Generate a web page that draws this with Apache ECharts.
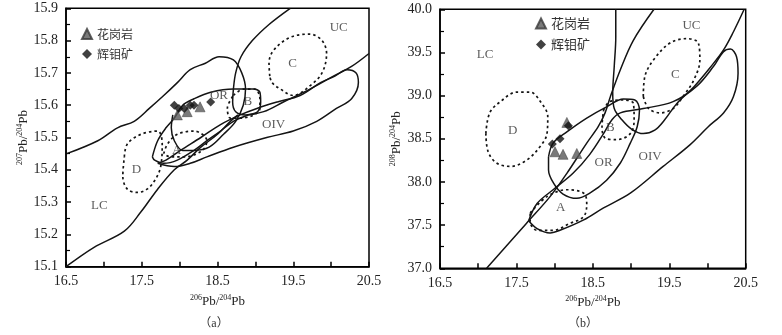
<!DOCTYPE html>
<html><head><meta charset="utf-8">
<script src="https://cdn.jsdelivr.net/npm/echarts@6/dist/echarts.min.js"></script>
<style>html,body{margin:0;padding:0;background:#fff}#c{width:782px;height:335px}</style>
</head><body><div id="c"></div>
<script>
// ---------- axis ranges ----------
const xRange = [16.5, 20.5];
const yRangeA = [15.1, 15.9];
const yRangeB = [37.0, 40.0];

// ---------- panel (a): 207Pb/204Pb vs 206Pb/204Pb ----------
const graniteA = [[17.97,15.57],[18.10,15.58],[18.27,15.595]];
const molyA = [[17.93,15.60],[17.99,15.59],[18.06,15.59],[18.14,15.60],[18.19,15.60],[18.41,15.61]];

const lcUpperA = [[16.51,15.45],[16.92,15.49],[17.18,15.53],[17.40,15.55],[17.60,15.59],[17.79,15.63],[17.97,15.67],[18.14,15.71],[18.34,15.73],[18.52,15.75],[18.71,15.74],[18.82,15.70],[18.87,15.65],[18.84,15.60],[18.74,15.55],[18.58,15.51],[18.39,15.47],[18.19,15.46],[18.04,15.46],[17.93,15.49],[17.89,15.53],[17.91,15.57]];
const lcLowerA = [[16.50,15.10],[16.87,15.16],[17.27,15.21],[17.49,15.27],[17.71,15.34],[17.93,15.40],[18.10,15.43],[18.28,15.47],[18.50,15.51],[18.67,15.55],[18.77,15.57]];
const ucA = [[19.46,15.90],[19.18,15.85],[18.96,15.80],[18.81,15.75],[18.74,15.70],[18.71,15.65],[18.70,15.61],[18.74,15.58],[18.87,15.57],[19.11,15.58],[19.37,15.61],[19.72,15.65],[20.03,15.69],[20.27,15.72],[20.50,15.76]];
const orA = [[17.64,15.44],[17.71,15.49],[17.82,15.53],[17.93,15.56],[18.04,15.60],[18.19,15.62],[18.41,15.64],[18.71,15.65],[18.98,15.65],[19.06,15.64],[19.07,15.61],[19.03,15.58],[18.91,15.57],[18.71,15.55],[18.54,15.52],[18.36,15.49],[18.19,15.46],[17.97,15.43],[17.79,15.42],[17.67,15.43],[17.64,15.44]];
const oivA = [[17.71,15.42],[17.93,15.41],[18.14,15.42],[18.36,15.44],[18.71,15.47],[19.15,15.50],[19.50,15.52],[19.81,15.55],[20.07,15.59],[20.27,15.62],[20.36,15.67],[20.33,15.70],[20.21,15.71],[20.05,15.69],[19.86,15.67],[19.59,15.63],[19.29,15.61],[19.02,15.59],[18.80,15.57],[18.54,15.54],[18.28,15.50],[18.01,15.46],[17.82,15.43],[17.71,15.42]];
const fieldAa = [[17.79,15.45],[17.84,15.48],[17.97,15.51],[18.19,15.52],[18.36,15.49],[18.30,15.46],[18.06,15.44],[17.88,15.44],[17.79,15.45]];
const fieldBa = [[18.71,15.63],[18.85,15.65],[18.99,15.65],[19.06,15.62],[19.06,15.59],[18.98,15.57],[18.80,15.56],[18.67,15.56],[18.63,15.59],[18.71,15.63]];
const fieldCa = [[19.19,15.69],[19.18,15.73],[19.24,15.77],[19.46,15.81],[19.72,15.82],[19.88,15.80],[19.94,15.76],[19.88,15.70],[19.72,15.66],[19.50,15.63],[19.33,15.65],[19.22,15.67],[19.19,15.69]];
const fieldDa = [[17.27,15.44],[17.31,15.48],[17.49,15.51],[17.71,15.52],[17.77,15.48],[17.75,15.41],[17.68,15.37],[17.57,15.34],[17.44,15.33],[17.31,15.34],[17.25,15.38],[17.27,15.44]];
const labelsA = [['UC',20.10,15.84],['C',19.49,15.73],['OR',18.52,15.63],['B',18.90,15.61],['OIV',19.24,15.54],['A',17.96,15.46],['D',17.43,15.40],['LC',16.94,15.29]];

// ---------- panel (b): 208Pb/204Pb vs 206Pb/204Pb ----------
const graniteB = [[18.005,38.35],[18.11,38.32],[18.29,38.33],[18.16,38.69]];
const molyB = [[17.97,38.44],[18.07,38.50],[18.18,38.65]];

const lcLineB = [[17.11,37.00],[17.63,37.52],[17.94,37.83],[18.16,38.10],[18.42,38.45],[18.57,38.64],[18.66,38.80],[18.73,38.99],[18.86,39.30],[19.03,39.64],[19.30,40.00]];
const ucB = [[18.80,40.00],[18.80,39.68],[18.78,39.34],[18.76,39.03],[18.78,38.85],[18.88,38.72],[19.01,38.61],[19.16,38.56],[19.31,38.60],[19.44,38.72],[19.60,38.91],[19.82,39.10],[20.03,39.32],[20.21,39.53],[20.34,39.74],[20.48,40.00]];
const orB = [[17.92,38.29],[17.98,38.45],[18.16,38.58],[18.42,38.74],[18.68,38.87],[18.90,38.96],[19.05,38.95],[19.11,38.83],[19.08,38.64],[18.99,38.45],[18.86,38.22],[18.68,38.02],[18.46,37.87],[18.29,37.81],[18.11,37.86],[17.99,37.98],[17.92,38.14],[17.92,38.29]];
const oivB = [[17.66,37.55],[17.77,37.75],[17.98,37.91],[18.24,38.10],[18.46,38.32],[18.64,38.56],[18.75,38.72],[18.86,38.80],[19.16,38.85],[19.55,38.93],[19.86,39.11],[20.08,39.34],[20.21,39.51],[20.30,39.54],[20.38,39.45],[20.40,39.26],[20.34,38.99],[20.21,38.80],[20.01,38.64],[19.77,38.43],[19.42,38.18],[18.99,37.87],[18.64,37.70],[18.38,37.56],[18.07,37.44],[17.94,37.41],[17.77,37.46],[17.66,37.55]];
const fieldAb = [[17.68,37.64],[17.90,37.83],[18.16,37.91],[18.38,37.87],[18.42,37.75],[18.38,37.60],[18.20,37.52],[17.98,37.44],[17.77,37.44],[17.68,37.54],[17.68,37.64]];
const fieldBb = [[18.64,38.83],[18.72,38.93],[18.90,38.95],[19.03,38.91],[19.04,38.72],[18.99,38.56],[18.81,38.49],[18.66,38.51],[18.62,38.64],[18.64,38.83]];
const fieldCb = [[19.16,38.99],[19.18,39.22],[19.29,39.41],[19.51,39.61],[19.73,39.66],[19.88,39.61],[19.90,39.41],[19.82,39.18],[19.68,38.99],[19.55,38.85],[19.38,38.80],[19.23,38.85],[19.16,38.99]];
const fieldDb = [[17.10,38.56],[17.15,38.80],[17.29,38.93],[17.50,39.04],[17.68,39.04],[17.83,38.91],[17.91,38.76],[17.90,38.56],[17.81,38.41],[17.63,38.25],[17.42,38.18],[17.24,38.22],[17.13,38.35],[17.10,38.56]];
const labelsB = [['UC',19.79,39.81],['LC',17.09,39.47],['D',17.45,38.60],['B',18.73,38.63],['OR',18.64,38.22],['OIV',19.25,38.29],['C',19.58,39.24],['A',18.08,37.70]];

// ---------- build option ----------
const serif = 'Liberation Serif, Times New Roman, serif';
const ink = '#141414';
const series = [];
function curve(data, gi, dotted) {
  series.push({
    type: 'line', data: data, xAxisIndex: gi, yAxisIndex: gi,
    showSymbol: false, symbol: 'none', smooth: 0.35, silent: true, z: 2,
    lineStyle: dotted ? {color: ink, width: 1.7, type: [2.5, 3]} : {color: ink, width: 1.5}
  });
}
[lcUpperA, lcLowerA, ucA, orA, oivA].forEach(d => curve(d, 0, false));
[fieldAa, fieldBa, fieldCa, fieldDa].forEach(d => curve(d, 0, true));
[lcLineB, ucB, orB, oivB].forEach(d => curve(d, 1, false));
[fieldAb, fieldBb, fieldCb, fieldDb].forEach(d => curve(d, 1, true));

function labelSeries(list, gi) {
  series.push({
    type: 'scatter', xAxisIndex: gi, yAxisIndex: gi, symbolSize: 1, silent: true, z: 3,
    itemStyle: {color: 'rgba(0,0,0,0)'},
    data: list.map(l => ({name: l[0], value: [l[1], l[2]]})),
    label: {show: true, position: 'inside', formatter: '{b}', fontFamily: serif, fontSize: 13, color: '#333'}
  });
}
labelSeries(labelsA, 0);
labelSeries(labelsB, 1);

function pts(name, data, gi, sym) {
  series.push({
    name: name, type: 'scatter', xAxisIndex: gi, yAxisIndex: gi, data: data, z: 5,
    symbol: sym, symbolSize: sym === 'triangle' ? 10 : 9,
    itemStyle: sym === 'triangle' ? {color: '#595959', borderColor: '#3a3a3a', borderWidth: 0.6} : {color: '#111'}
  });
}
pts('花岗岩', graniteA, 0, 'triangle');
pts('辉钼矿', molyA, 0, 'diamond');
pts('花岗岩', graniteB, 1, 'triangle');
pts('辉钼矿', molyB, 1, 'diamond');

const richName = {
  s: {fontSize: 8, fontFamily: serif, color: '#222', verticalAlign: 'top', lineHeight: 8},
  m: {fontSize: 13, fontFamily: serif, color: '#222', lineHeight: 15}
};
function xAx(gi) {
  return {
    type: 'value', gridIndex: gi, min: xRange[0], max: xRange[1], interval: 0.5,
    name: '{s|206}{m|Pb/}{s|204}{m|Pb}', nameLocation: 'middle', nameGap: 25,
    nameTextStyle: {rich: richName},
    axisLine: {show: true, onZero: false, lineStyle: {color: '#000', width: 1.5}},
    axisTick: {show: true, inside: true, length: 5, lineStyle: {color: '#000', width: 1.5}},
    splitLine: {show: false},
    axisLabel: {
      margin: 8, fontFamily: serif, fontSize: 14, color: '#222',
      formatter: v => (Math.abs(v - Math.round(v)) < 1e-6 ? '' : v.toFixed(1))
    }
  };
}
function yAx(gi, range, interval, sup, gap) {
  return {
    type: 'value', gridIndex: gi, min: range[0], max: range[1], interval: interval,
    name: '{s|' + sup + '}{m|Pb/}{s|204}{m|Pb}', nameLocation: 'middle', nameGap: gap,
    nameTextStyle: {rich: richName},
    axisLine: {show: true, onZero: false, lineStyle: {color: '#000', width: 1.5}},
    axisTick: {show: true, inside: true, length: 5, lineStyle: {color: '#000', width: 1.5}},
    minorTick: {show: true, splitNumber: 2, length: 4, lineStyle: {color: '#000', width: 1.2}},
    splitLine: {show: false},
    axisLabel: {margin: 8, fontFamily: serif, fontSize: 14, color: '#222', formatter: v => v.toFixed(1)}
  };
}

const legendBase = {
  orient: 'vertical', padding: 0, itemWidth: 10, itemHeight: 10, itemGap: 8, itemTextGap: 2,
  textStyle: {fontFamily: 'Noto Sans CJK SC', fontSize: 12, color: '#333'},
  data: [{name: '花岗岩', icon: 'triangle'}, {name: '辉钼矿', icon: 'diamond'}],
  selectedMode: false
};

const option = {
  animation: false,
  backgroundColor: '#fff',
  grid: [
    {left: 66, top: 8.3, width: 303, height: 258.4, show: true, borderColor: '#000', borderWidth: 1.5, backgroundColor: 'transparent'},
    {left: 440, top: 9.3, width: 305.7, height: 259, show: true, borderColor: '#000', borderWidth: 1.5, backgroundColor: 'transparent'}
  ],
  xAxis: [xAx(0), xAx(1)],
  yAxis: [yAx(0, yRangeA, 0.1, '207', 30), yAx(1, yRangeB, 0.5, '208', 36)],
  legend: [
    Object.assign({}, legendBase, {left: 81, top: 28}),
    Object.assign({}, legendBase, {left: 535, top: 17, textStyle: {fontFamily: 'Noto Sans CJK SC', fontSize: 13, color: '#333'}})
  ],
  graphic: [
    {type: 'text', x: 214, y: 318, style: {text: '（a）', fontFamily: 'Liberation Serif, Noto Sans CJK SC', fontSize: 12, fill: '#333', textAlign: 'center'}},
    {type: 'text', x: 583, y: 318, style: {text: '（b）', fontFamily: 'Liberation Serif, Noto Sans CJK SC', fontSize: 12, fill: '#333', textAlign: 'center'}}
  ],
  series: series
};
const chart = echarts.init(document.getElementById('c'), null, {renderer: 'canvas'});
chart.setOption(option);
</script>
</body></html>
